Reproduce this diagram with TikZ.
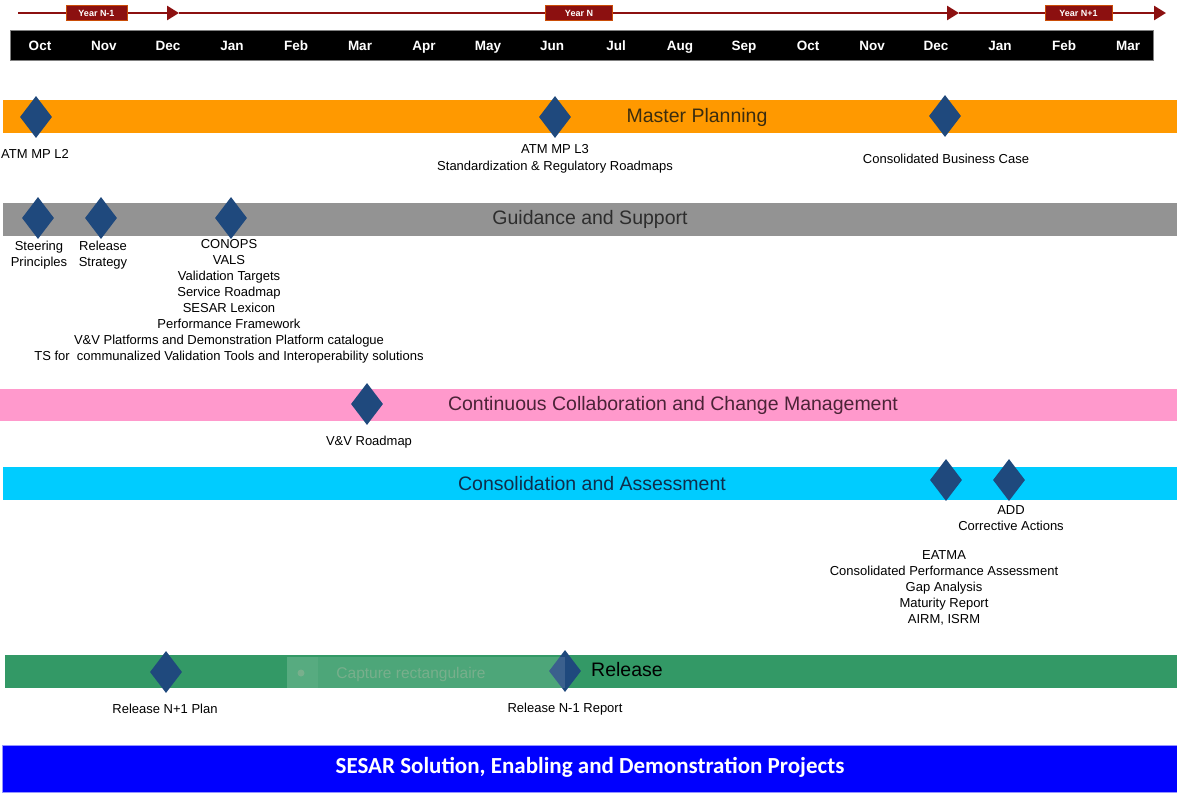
\documentclass[tikz,border=0pt]{standalone}
\usepackage{fontspec}
\setmainfont{Liberation Sans}
\newfontfamily\calib{Carlito}
\usetikzlibrary{shapes.geometric,arrows.meta}
\definecolor{orangeband}{HTML}{FF9900}
\definecolor{grayband}{HTML}{939393}
\definecolor{pinkband}{HTML}{FF99CC}
\definecolor{cyanband}{HTML}{00CCFF}
\definecolor{greenband}{HTML}{339966}
\definecolor{blueband}{HTML}{0000FF}
\definecolor{dia}{HTML}{1F497D}
\definecolor{yrred}{RGB}{140,16,16}
\definecolor{capgray}{RGB}{120,175,140}
\begin{document}
\begin{tikzpicture}[x=1pt,y=-1pt,
  ms/.style={diamond,fill=dia,draw=none,inner sep=0pt,minimum width=32pt,minimum height=42pt},
  lbl/.style={font=\fontsize{13}{16}\selectfont,align=center,inner sep=0pt,text=black},
  ttl/.style={font=\fontsize{19.5}{24}\selectfont,inner sep=0pt},
  mon/.style={font=\bfseries\fontsize{13.5}{13.5}\selectfont,text=white,inner sep=0pt},
  yr/.style={fill=yrred,draw=orange!55!yrred,line width=0.8pt,text=white,font=\bfseries\fontsize{9}{9}\selectfont,inner sep=0pt},
  band/.style={draw=none,inner sep=0pt,anchor=north west},
  yrline/.style={draw=yrred,line width=2.6pt,-{Triangle[length=12pt,width=14pt]}}
]
\useasboundingbox (0,0) rectangle (1177,793);
\fill[white] (0,0) rectangle (1177,793);

% top timeline
\coordinate (t0) at (18,13);
\coordinate (t1) at (179,13);
\coordinate (t2) at (959,13);
\coordinate (t3) at (1166,13);
\draw[yrline] (t0) -- (t1);
\draw[yrline] (t1) -- (t2);
\draw[yrline] (t2) -- (t3);
\node[yr,minimum width=61pt,minimum height=15pt] (ynm1) at (96.5,13) {Year N-1};
\node[yr,minimum width=67pt,minimum height=15pt] (yn) at (579,13) {Year N};
\node[yr,minimum width=67pt,minimum height=15pt] (ynp1) at (1078.5,13) {Year N+1};

% month bar
\node[band,fill=black,draw=gray,line width=0.6pt,minimum width=1143pt,minimum height=30pt] (mbar) at (10,30) {};
\foreach \m [count=\i from 0] in {Oct,Nov,Dec,Jan,Feb,Mar,Apr,May,Jun,Jul,Aug,Sep,Oct,Nov,Dec,Jan,Feb,Mar}{
  \node[mon,anchor=base] (m\i) at (40+64*\i,50.5) {\m};
}

% Master Planning
\node[band,fill=orangeband,minimum width=1174pt,minimum height=33pt] (mp) at (3,100) {};
\node[ttl,text={rgb,255:red,60;green,45;blue,15}] (mpt) at (697,117) {Master Planning};
\node[ms] (mp1) at (36,117) {};
\node[ms] (mp2) at (555,117) {};
\node[ms] (mp3) at (945,116) {};
\node[lbl] (mpl1) at (35,154) {ATM MP L2};
\node[lbl] (mpl2) at (555,158.5) {ATM MP L3\\[1pt]Standardization \& Regulatory Roadmaps};
\node[lbl] (mpl3) at (946,159) {Consolidated Business Case};

% Guidance and Support
\node[band,fill=grayband,minimum width=1174pt,minimum height=33pt] (gs) at (3,203) {};
\node[ttl,text={rgb,255:red,45;green,45;blue,45}] (gst) at (590,219) {Guidance and Support};
\node[ms] (gs1) at (38,218) {};
\node[ms] (gs2) at (101,218) {};
\node[ms] (gs3) at (231,218) {};
\node[lbl] (gsl1) at (39,255) {Steering\\Principles};
\node[lbl] (gsl2) at (103,255) {Release\\Strategy};
\node[lbl] (gsl3) at (229,301) {CONOPS\\VALS\\Validation Targets\\Service Roadmap\\SESAR Lexicon\\Performance Framework\\V\&V Platforms and Demonstration Platform catalogue\\TS for\ \ communalized Validation Tools and Interoperability solutions};

% Continuous Collaboration
\node[band,fill=pinkband,minimum width=1177pt,minimum height=32pt] (cc) at (0,389) {};
\node[ttl,text={rgb,255:red,75;green,35;blue,55}] (cct) at (673,405) {Continuous Collaboration and Change Management};
\node[ms] (cc1) at (367,404) {};
\node[lbl] (ccl1) at (369,442) {V\&V Roadmap};

% Consolidation and Assessment
\node[band,fill=cyanband,minimum width=1174pt,minimum height=33pt] (ca) at (3,467) {};
\node[ttl,text={rgb,255:red,15;green,45;blue,75}] (cat) at (592,484) {Consolidation and Assessment};
\node[ms] (ca1) at (946,480) {};
\node[ms] (ca2) at (1009,480) {};
\node[lbl] (cal1) at (1011,518) {ADD\\Corrective Actions};
\node[lbl] (cal2) at (944,587.5) {EATMA\\Consolidated Performance Assessment\\Gap Analysis\\Maturity Report\\AIRM, ISRM};

% Release
\node[band,fill=greenband,minimum width=1172pt,minimum height=33pt] (rl) at (5,655) {};
\node[ttl,text=black] (rlt) at (627,670) {Release};
\node[ms] (rl1) at (166,672) {};
\node[ms] (rl2) at (565,671) {};
\fill[white,opacity=0.13] (287,657) rectangle (565,688);
\fill[white,opacity=0.06] (287,657) rectangle (318,688);
\fill[capgray] (301,673) circle (3.5pt);
\node[font=\fontsize{15.5}{18}\selectfont,text=capgray,inner sep=0pt] (cap) at (411,674) {Capture rectangulaire};
\node[lbl] (rll1) at (165,709) {Release N+1 Plan};
\node[lbl] (rll2) at (565,709) {Release N-1 Report};

% SESAR projects
\node[band,fill=blueband,draw={rgb,255:red,150;green,150;blue,255},line width=1pt,minimum width=1175pt,minimum height=47pt] (sp) at (2,745) {};
\node[font=\calib\bfseries\fontsize{23}{26}\selectfont,text=white,inner sep=0pt] (spt) at (590,767) {SESAR Solution, Enabling and Demonstration Projects};
\end{tikzpicture}
\end{document}
